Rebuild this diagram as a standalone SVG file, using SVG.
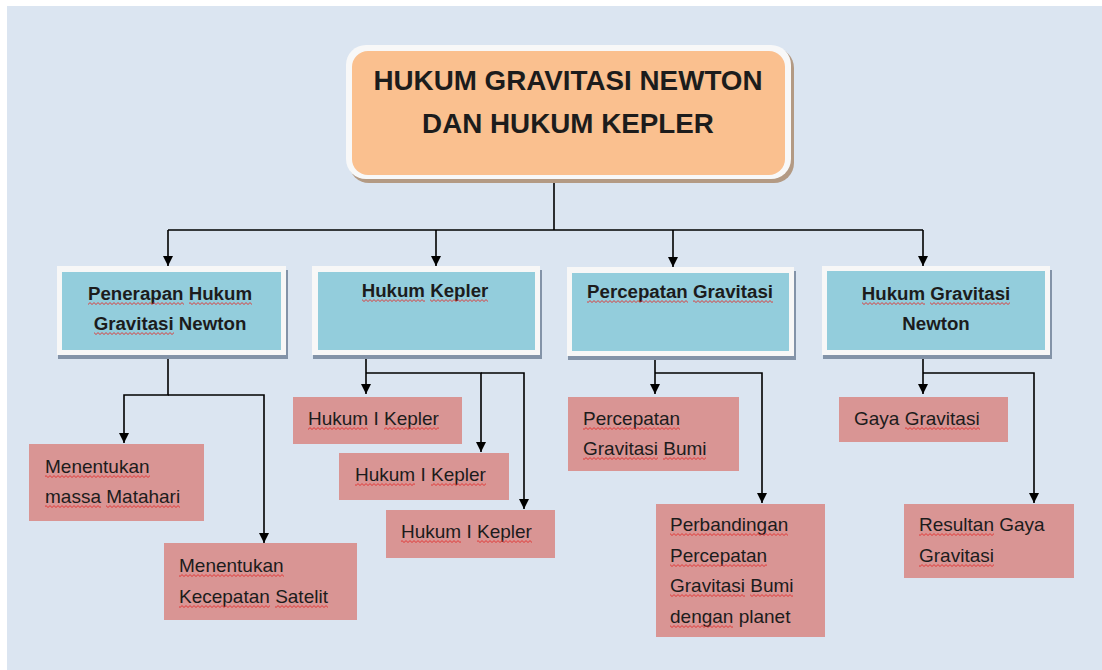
<svg xmlns="http://www.w3.org/2000/svg" width="1102" height="670" viewBox="0 0 1102 670">
<defs>
<marker id="arr" markerUnits="userSpaceOnUse" markerWidth="10" markerHeight="10" refX="10" refY="5" orient="auto">
<path d="M0,0 L10,5 L0,10 z" fill="#000"/>
</marker>
<pattern id="w0" patternUnits="userSpaceOnUse" x="0" y="0" width="4" height="3"><path d="M0,2.5 L2,0.6 L4,2.5" fill="none" stroke="#e0302f" stroke-width="0.9"/></pattern>
<pattern id="w1" patternUnits="userSpaceOnUse" x="0" y="1" width="4" height="3"><path d="M0,2.5 L2,0.6 L4,2.5" fill="none" stroke="#e0302f" stroke-width="0.9"/></pattern>
<pattern id="w2" patternUnits="userSpaceOnUse" x="0" y="2" width="4" height="3"><path d="M0,2.5 L2,0.6 L4,2.5" fill="none" stroke="#e0302f" stroke-width="0.9"/></pattern>
</defs>
<style>
.t{font-family:"Liberation Sans",Arial,sans-serif;fill:#1c1c1c}
.title{font-size:27.8px;font-weight:bold;text-anchor:middle}
.cy{font-size:18.7px;font-weight:bold;text-anchor:middle}
.pk{font-size:19px}
.pink{fill:#d99594}
.cyan{fill:#93cddc}
.frame{fill:#f7f7f7}
.shc{fill:#8393a8}
.conn{fill:none;stroke:#000;stroke-width:1.6;marker-end:url(#arr)}
.line{fill:none;stroke:#000;stroke-width:1.6}
.a{fill:url(#w0)}
.b{fill:url(#w1)}
.c{fill:url(#w2)}
</style>
<rect x="0" y="0" width="1102" height="670" fill="#ffffff"/>
<rect x="7" y="6" width="1095" height="664" fill="#dbe5f1"/>

<g id="connectors">
<path class="line" d="M554,181 V230 M168,230 H923"/>
<path class="conn" d="M168,230 V266"/>
<path class="conn" d="M436,230 V266"/>
<path class="conn" d="M673,230 V267"/>
<path class="conn" d="M923,230 V266"/>
<path class="conn" d="M168,356 V395 H124 V443"/>
<path class="conn" d="M168,395 H264 V543"/>
<path class="conn" d="M366,356 V394"/>
<path class="conn" d="M366,373 H481 V452"/>
<path class="conn" d="M481,373 H524 V509"/>
<path class="conn" d="M655,357 V394"/>
<path class="conn" d="M655,373 H762 V503"/>
<path class="conn" d="M923,356 V394"/>
<path class="conn" d="M923,373 H1034 V503"/>
</g>

<g id="title">
<rect x="349" y="48" width="445" height="135" rx="20" fill="#b39a84"/>
<rect x="346" y="45" width="445" height="134" rx="20" fill="#f8f8f8"/>
<rect x="352" y="51" width="433" height="124" rx="16" fill="#fac08f"/>
<text class="t title" x="568" y="90">HUKUM GRAVITASI NEWTON</text>
<text class="t title" x="568" y="133">DAN HUKUM KEPLER</text>
</g>

<g id="penerapan">
<rect class="shc" x="58" y="270" width="230" height="89"/>
<rect class="frame" x="57" y="266" width="229" height="89"/>
<rect class="cyan" x="62" y="272" width="219" height="78"/>
<text class="t cy" x="170" y="300">Penerapan Hukum</text>
<text class="t cy" x="170" y="330">Gravitasi Newton</text>
<rect class="c" x="88" y="302" width="96" height="3"/>
<rect class="c" x="189" y="302" width="63" height="3"/>
<rect class="c" x="94" y="332" width="80" height="3"/>
</g>

<g id="hukum-kepler">
<rect class="shc" x="313" y="270" width="229" height="89"/>
<rect class="frame" x="312" y="266" width="228" height="89"/>
<rect class="cyan" x="318" y="272" width="217" height="78"/>
<text class="t cy" x="425" y="297">Hukum Kepler</text>
<rect class="c" x="362" y="299" width="63" height="3"/>
<rect class="c" x="430" y="299" width="58" height="3"/>
</g>

<g id="percepatan">
<rect class="shc" x="568" y="271" width="228" height="89"/>
<rect class="frame" x="567" y="267" width="227" height="89"/>
<rect class="cyan" x="572" y="273" width="217" height="78"/>
<text class="t cy" x="680" y="298">Percepatan Gravitasi</text>
<rect class="a" x="587" y="300" width="101" height="3"/>
<rect class="a" x="693" y="300" width="80" height="3"/>
</g>

<g id="hukum-gravitasi">
<rect class="shc" x="823" y="270" width="229" height="89"/>
<rect class="frame" x="822" y="266" width="228" height="89"/>
<rect class="cyan" x="827" y="271" width="218" height="79"/>
<text class="t cy" x="936" y="300">Hukum Gravitasi</text>
<text class="t cy" x="936" y="330">Newton</text>
<rect class="c" x="862" y="302" width="63" height="3"/>
<rect class="c" x="930" y="302" width="80" height="3"/>
</g>

<g id="massa-matahari">
<rect class="pink" x="29" y="444" width="175" height="77"/>
<text class="t pk" x="45" y="473">Menentukan</text>
<text class="t pk" x="45" y="503">massa Matahari</text>
<rect class="b" x="45" y="475" width="105" height="3"/>
<rect class="b" x="45" y="505" width="56" height="3"/>
<rect class="b" x="106" y="505" width="74" height="3"/>
</g>

<g id="kecepatan-satelit">
<rect class="pink" x="164" y="543" width="193" height="77"/>
<text class="t pk" x="179" y="572">Menentukan</text>
<text class="t pk" x="179" y="603">Kecepatan Satelit</text>
<rect class="b" x="179" y="574" width="105" height="3"/>
<rect class="c" x="179" y="605" width="91" height="3"/>
<rect class="c" x="275" y="605" width="53" height="3"/>
</g>

<g id="kepler-a">
<rect class="pink" x="293" y="397" width="169" height="47"/>
<text class="t pk" x="308" y="425">Hukum I Kepler</text>
<rect class="b" x="308" y="427" width="60" height="3"/>
<rect class="b" x="384" y="427" width="55" height="3"/>
</g>

<g id="kepler-b">
<rect class="pink" x="339" y="453" width="170" height="47"/>
<text class="t pk" x="355" y="481">Hukum I Kepler</text>
<rect class="a" x="355" y="483" width="60" height="3"/>
<rect class="a" x="431" y="483" width="55" height="3"/>
</g>

<g id="kepler-c">
<rect class="pink" x="386" y="510" width="169" height="48"/>
<text class="t pk" x="401" y="538">Hukum I Kepler</text>
<rect class="a" x="401" y="540" width="60" height="3"/>
<rect class="a" x="477" y="540" width="55" height="3"/>
</g>

<g id="gravitasi-bumi">
<rect class="pink" x="568" y="397" width="171" height="74"/>
<text class="t pk" x="583" y="425">Percepatan</text>
<text class="t pk" x="583" y="455">Gravitasi Bumi</text>
<rect class="b" x="583" y="427" width="97" height="3"/>
<rect class="b" x="583" y="457" width="75" height="3"/>
<rect class="b" x="663" y="457" width="43" height="3"/>
</g>

<g id="perbandingan">
<rect class="pink" x="656" y="504" width="169" height="133"/>
<text class="t pk" x="670" y="531">Perbandingan</text>
<text class="t pk" x="670" y="562">Percepatan</text>
<text class="t pk" x="670" y="592">Gravitasi Bumi</text>
<text class="t pk" x="670" y="623">dengan planet</text>
<rect class="c" x="670" y="533" width="118" height="3"/>
<rect class="a" x="670" y="564" width="97" height="3"/>
<rect class="a" x="670" y="594" width="75" height="3"/>
<rect class="a" x="750" y="594" width="43" height="3"/>
<rect class="b" x="670" y="625" width="63" height="3"/>
</g>

<g id="gaya-gravitasi">
<rect class="pink" x="839" y="397" width="169" height="45"/>
<text class="t pk" x="854" y="425">Gaya Gravitasi</text>
<rect class="b" x="905" y="427" width="75" height="3"/>
</g>

<g id="resultan">
<rect class="pink" x="904" y="504" width="170" height="74"/>
<text class="t pk" x="919" y="531">Resultan Gaya</text>
<text class="t pk" x="919" y="562">Gravitasi</text>
<rect class="c" x="919" y="533" width="75" height="3"/>
<rect class="a" x="919" y="564" width="75" height="3"/>
</g>
</svg>
